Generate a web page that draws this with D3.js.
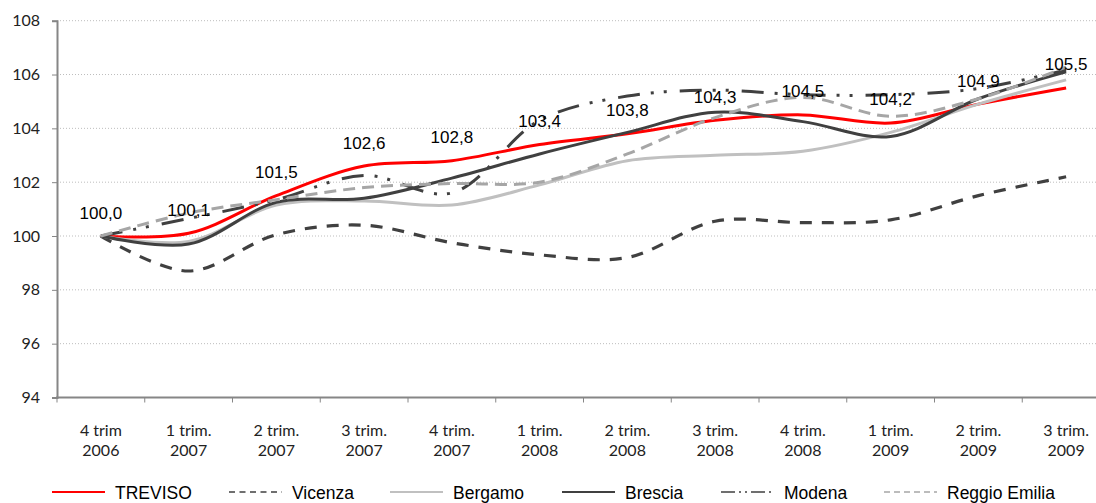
<!DOCTYPE html>
<html>
<head>
<meta charset="utf-8">
<script src="https://cdn.jsdelivr.net/npm/d3@7"></script>
<style>
  html, body { margin: 0; padding: 0; background: #fff; }
  svg { display: block; }
</style>
</head>
<body>
<svg id="chart" width="1096" height="503"></svg>
<script>
// ---------- DATA ----------
const categories = [
  ["4 trim", "2006"], ["1 trim.", "2007"], ["2 trim.", "2007"], ["3 trim.", "2007"],
  ["4 trim.", "2007"], ["1 trim.", "2008"], ["2 trim.", "2008"], ["3 trim.", "2008"],
  ["4 trim.", "2008"], ["1 trim.", "2009"], ["2 trim.", "2009"], ["3 trim.", "2009"]
];
const yTicks = [94, 96, 98, 100, 102, 104, 106, 108];

const treviso  = [100.0, 100.1, 101.5, 102.6, 102.8, 103.4, 103.8, 104.3, 104.5, 104.2, 104.9, 105.5];
const vicenza  = [100.0, 98.7, 100.05, 100.4, 99.75, 99.3, 99.2, 100.55, 100.5, 100.6, 101.5, 102.2];
const bergamo  = [100.0, 99.8, 101.15, 101.3, 101.15, 101.9, 102.8, 103.0, 103.15, 103.85, 104.9, 105.8];
const brescia  = [100.0, 99.7, 101.25, 101.4, 102.15, 103.05, 103.85, 104.6, 104.25, 103.7, 105.1, 106.1];
const modena   = [100.0, 100.65, 101.35, 102.25, 101.6, 104.3, 105.2, 105.42, 105.25, 105.25, 105.48, 106.17];
const reggio   = [100.0, 100.85, 101.35, 101.8, 101.95, 102.0, 103.05, 104.4, 105.15, 104.45, 105.1, 106.28];

const seriesNames = ["TREVISO", "Vicenza", "Bergamo", "Brescia", "Modena", "Reggio Emilia"];
const seriesValues = [treviso, vicenza, bergamo, brescia, modena, reggio];

// ---------- STYLES ----------
const styles = [
  { color: "#ff0000", width: 3,   dash: null,                  lw: 2,   ldash: null },
  { color: "#404040", width: 3.2, dash: "12,10",               lw: 1.5, ldash: "6,4.5" },
  { color: "#c0c0c0", width: 3,   dash: null,                  lw: 2,   ldash: null },
  { color: "#404040", width: 3,   dash: null,                  lw: 2,   ldash: null },
  { color: "#404040", width: 3,   dash: "22,11,3,10,3,13",     lw: 1.5, ldash: "14,4,2,4,2,4" },
  { color: "#a6a6a6", width: 3,   dash: "12,7",                lw: 1.5, ldash: "6,4" }
];
const legendX = [52, 229, 390, 562, 721, 884]; // line start positions

// ---------- LAYOUT ----------
const W = 1096, H = 503;
const left = 57, band = 87.75;
const svg = d3.select("#chart");
svg.append("rect").attr("width", W).attr("height", H).attr("fill", "#fff");

const x = d3.scaleBand()
  .domain(d3.range(categories.length))
  .range([left, left + band * categories.length])
  .padding(0);
const xc = i => x(i) + x.bandwidth() / 2;

const y = d3.scaleLinear().domain([94, 108]).range([397.5, 20.7]);

// gridlines
svg.append("g")
  .selectAll("line")
  .data(yTicks.filter(t => t > 94))
  .join("line")
  .attr("x1", left).attr("x2", W)
  .attr("y1", d => y(d)).attr("y2", d => y(d))
  .attr("stroke", "#bdbdbd")
  .attr("stroke-width", 1)
  .attr("stroke-dasharray", "1,2");

// y axis
const yAxis = svg.append("g")
  .attr("transform", `translate(${left},0)`)
  .call(d3.axisLeft(y).tickValues(yTicks).tickSize(5).tickPadding(12).tickFormat(d3.format("d")));
yAxis.select(".domain").attr("stroke", "#868686").attr("stroke-width", 2);
yAxis.selectAll(".tick line").attr("stroke", "#868686");
yAxis.selectAll(".tick text")
  .attr("font-family", "Lato, 'Open Sans', sans-serif")
  .attr("font-size", 16)
  .attr("fill", "#222");

// x axis line
svg.append("line")
  .attr("x1", left - 1).attr("x2", W)
  .attr("y1", y(94)).attr("y2", y(94))
  .attr("stroke", "#868686").attr("stroke-width", 2);
// x ticks at band boundaries
svg.append("g")
  .selectAll("line")
  .data(d3.range(categories.length + 1))
  .join("line")
  .attr("x1", i => i < categories.length ? x(i) : x(i - 1) + x.bandwidth())
  .attr("x2", i => i < categories.length ? x(i) : x(i - 1) + x.bandwidth())
  .attr("y1", y(94)).attr("y2", y(94) + 5)
  .attr("stroke", "#868686").attr("stroke-width", 1);

// x labels
const xl = svg.append("g")
  .selectAll("text")
  .data(categories)
  .join("text")
  .attr("text-anchor", "middle")
  .attr("font-family", "Lato, 'Open Sans', sans-serif")
  .attr("font-size", 16)
  .attr("fill", "#222");
xl.append("tspan").attr("x", (d, i) => xc(i)).attr("y", 436).text(d => d[0]);
xl.append("tspan").attr("x", (d, i) => xc(i)).attr("y", 456).text(d => d[1]);

// lines
const line = d3.line()
  .x((d, i) => xc(i))
  .y(d => y(d))
  .curve(d3.curveCatmullRom.alpha(0.5));

svg.append("g")
  .selectAll("path")
  .data(seriesValues)
  .join("path")
  .attr("d", d => line(d))
  .attr("fill", "none")
  .attr("stroke", (d, i) => styles[i].color)
  .attr("stroke-width", (d, i) => styles[i].width)
  .attr("stroke-dasharray", (d, i) => styles[i].dash)
  .attr("stroke-linejoin", "round");

// data labels (TREVISO)
const fmt = v => d3.format(".1f")(v).replace(".", ",");
svg.append("g")
  .selectAll("text")
  .data(treviso)
  .join("text")
  .attr("x", (d, i) => xc(i))
  .attr("y", d => y(d) - 17.5)
  .attr("text-anchor", "middle")
  .attr("font-family", "'Liberation Sans', Arial, sans-serif")
  .attr("font-size", 17)
  .attr("fill", "#000")
  .text(d => fmt(d));

// legend
const lg = svg.append("g")
  .selectAll("g")
  .data(seriesNames)
  .join("g")
  .attr("transform", (d, i) => `translate(${legendX[i]},0)`);
lg.append("line")
  .attr("x1", 0).attr("x2", 53)
  .attr("y1", 492).attr("y2", 492)
  .attr("stroke", (d, i) => styles[i].color)
  .attr("stroke-width", (d, i) => styles[i].lw)
  .attr("stroke-dasharray", (d, i) => styles[i].ldash);
lg.append("text")
  .attr("x", 63)
  .attr("y", 499)
  .attr("font-family", "'Liberation Sans', Arial, sans-serif")
  .attr("font-size", 17.5)
  .attr("fill", "#000")
  .text(d => d);
</script>
</body>
</html>
